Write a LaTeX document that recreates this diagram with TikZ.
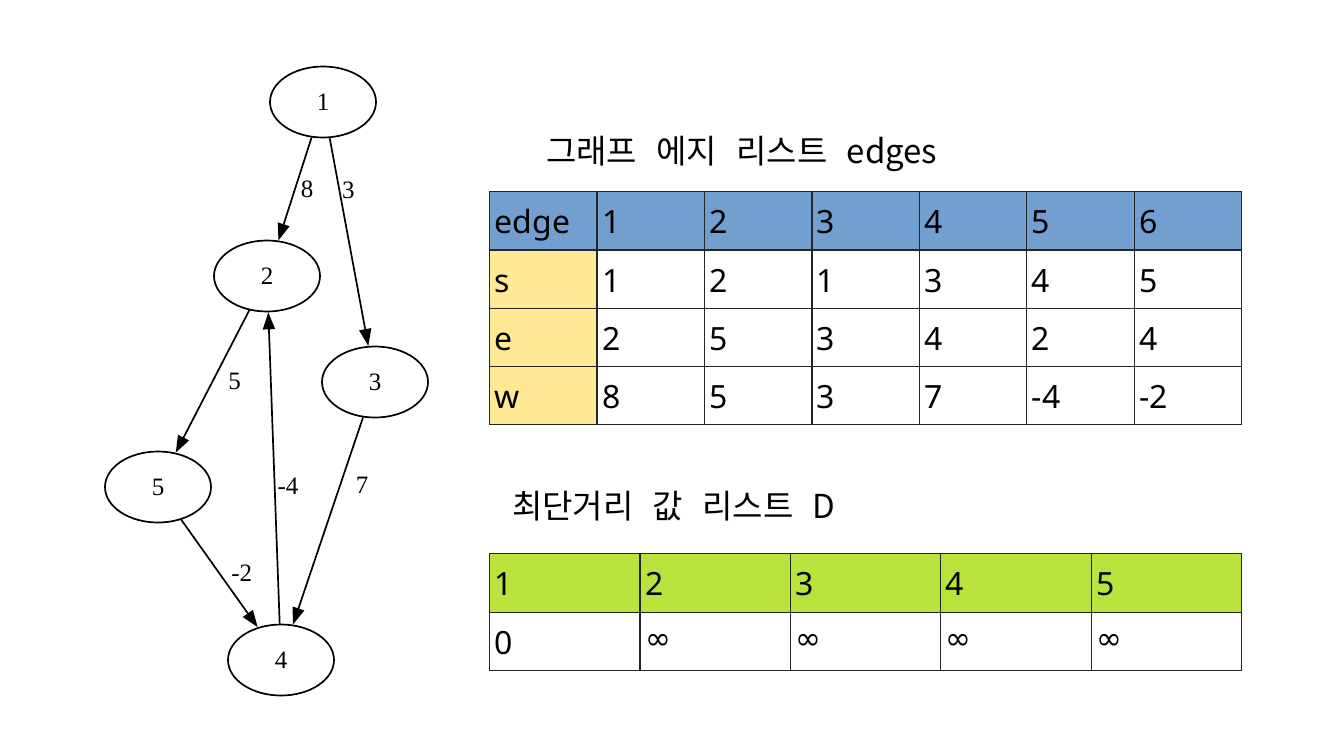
\documentclass[tikz,border=0pt]{standalone}
\usepackage{fontspec}
\usepackage{xcolor}
\usepackage{tikz}
\usetikzlibrary{shapes,arrows.meta,positioning,calc}

\newfontfamily\kofont[WordSpace=2.6]{Noto Sans CJK KR}
\newfontfamily\cellfont{Noto Sans}
\newfontfamily\graphfont{Liberation Serif}
\newfontfamily\symfont{DejaVu Sans}
\definecolor{headblue}{HTML}{729FCF}
\definecolor{sideyellow}{HTML}{FFE994}
\definecolor{headgreen}{HTML}{BBE33D}
\newcommand{\inftext}{\raisebox{5pt}{\symfont\fontsize{31}{34}\selectfont ∞}}

\begin{document}
\begin{tikzpicture}[x=1pt,y=-1pt,
  vertex/.style={draw,ellipse,line width=1.7pt,minimum width=106pt,minimum height=71pt,
    font=\graphfont\fontsize{25}{30}\selectfont},
  arc/.style={line width=1.7pt,-{Triangle[length=17pt,width=12pt]}},
  wlabel/.style={font=\graphfont\fontsize{25}{30}\selectfont,inner sep=2pt},
  title/.style={font=\kofont\fontsize{33}{40}\selectfont,inner sep=0pt,anchor=base west},
  cell/.style={draw=black!85,line width=1.2pt,rectangle,anchor=north west,
    minimum width=107.43pt,minimum height=58.3pt,text width=97.43pt,inner xsep=5pt,
    align=left,text height=28pt,text depth=2pt,font=\cellfont\fontsize{32}{38}\selectfont},
  dcell/.style={cell,minimum width=150.4pt,text width=140.4pt,minimum height=58.5pt}]
  \useasboundingbox (0,0) rectangle (1340,750);

  % graph
  \node[vertex] (v1) at (323,102) {1};
  \node[vertex] (v2) at (267,276) {2};
  \node[vertex] (v3) at (375,382) {3};
  \node[vertex] (v5) at (158,487) {5};
  \node[vertex] (v4) at (281,660) {4};

  \draw[arc] (v1) -- node[wlabel,right=3pt,pos=0.5] {8} (v2);
  \draw[arc] (v1) -- node[wlabel,right,pos=0.25] {3} (v3);
  \draw[arc] (v2) -- node[wlabel,right=13pt,pos=0.5] {5} (v5);
  \draw[arc] (v4) -- node[wlabel,right,pos=0.44] {-4} (v2);
  \draw[arc] (v3) -- node[wlabel,right=13pt,pos=0.33] {7} (v4);
  \draw[arc] (v5) -- node[wlabel,right=9pt,pos=0.5] {-2} (v4);

  % edge list
  \node[title] (t1) at (546,163) {그래프 에지 리스트 edges};
  \foreach \lab [count=\c from 0] in {edge,1,2,3,4,5,6}
    \node[cell,fill=headblue] (h\c) at (489+\c*107.43,191) {\lab};
  \foreach \r/\vals [count=\i] in {s/{1,2,1,3,4,5},e/{2,5,3,4,2,4},w/{8,5,3,7,-4,-2}} {
    \node[cell,fill=sideyellow] (\r0) at (489,191+\i*58.3) {\r};
    \foreach \v [count=\c] in \vals
      \node[cell] (\r\c) at (489+\c*107.43,191+\i*58.3) {\v};
  }

  % distance list
  \node[title] (t2) at (512,518) {최단거리 값 리스트 D};
  \foreach \v [count=\c from 0] in {1,...,5}
    \node[dcell,fill=headgreen] (d\c) at (489+\c*150.4,553) {\v};
  \node[dcell] (dv0) at (489,611.5) {0};
  \foreach \c in {1,...,4}
    \node[dcell] (dv\c) at (489+\c*150.4,611.5) {\inftext};
\end{tikzpicture}
\end{document}
